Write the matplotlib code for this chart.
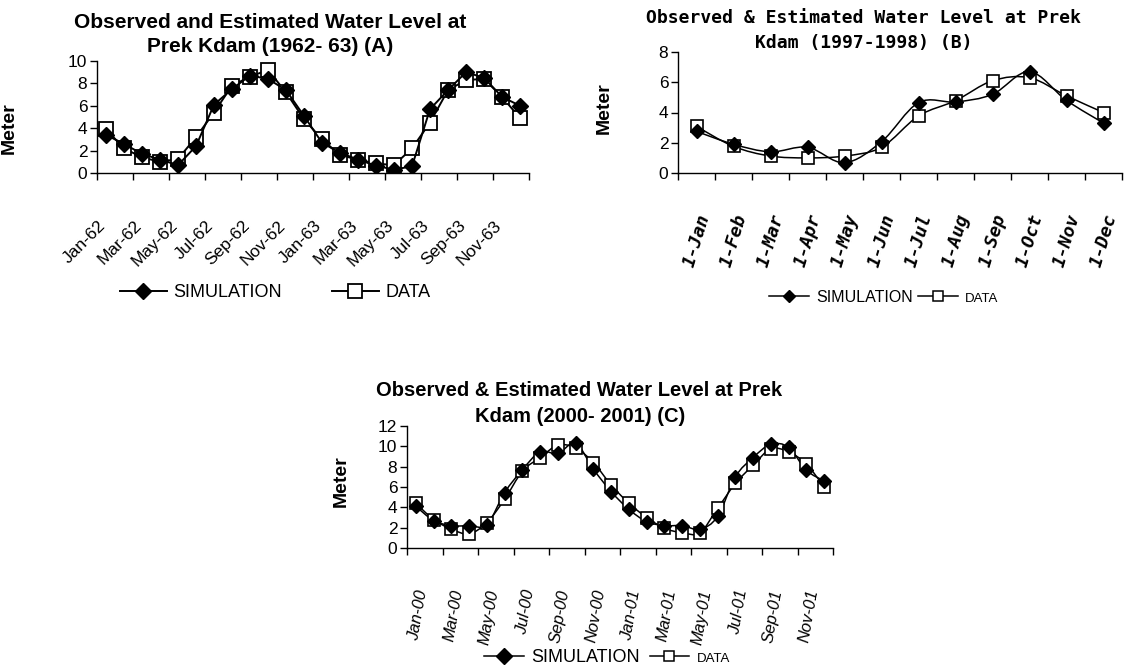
import numpy as np
import matplotlib.pyplot as plt
import matplotlib.transforms as mtransforms
from matplotlib.path import Path
from matplotlib.patches import PathPatch
from matplotlib.lines import Line2D

plt.rcParams['font.family'] = 'Liberation Sans'

W, H = 1125, 671

# (A) Prek Kdam 1962-63, monthly
labels_a = ['Jan-62', 'Mar-62', 'May-62', 'Jul-62', 'Sep-62', 'Nov-62',
            'Jan-63', 'Mar-63', 'May-63', 'Jul-63', 'Sep-63', 'Nov-63']
sim_a = [3.4, 2.6, 1.7, 1.2, 0.7, 2.4, 6.1, 7.5, 8.7, 8.4, 7.4, 5.1,
         2.7, 1.8, 1.2, 0.65, 0.3, 0.6, 5.7, 7.4, 9.0, 8.5, 6.8, 6.0]
data_a = [3.9, 2.2, 1.4, 1.0, 1.25, 3.2, 5.4, 7.8, 8.6, 9.2, 7.2, 4.8,
          3.0, 1.6, 1.2, 0.85, 0.7, 2.2, 4.5, 7.4, 8.3, 8.4, 6.8, 4.9]

# (B) Prek Kdam 1997-1998
labels_b = ['1-Jan', '1-Feb', '1-Mar', '1-Apr', '1-May', '1-Jun',
            '1-Jul', '1-Aug', '1-Sep', '1-Oct', '1-Nov', '1-Dec']
sim_b = [2.75, 1.9, 1.4, 1.7, 0.68, 2.07, 4.65, 4.7, 5.2, 6.7, 4.8, 3.3]
data_b = [3.08, 1.76, 1.12, 1.0, 1.12, 1.7, 3.77, 4.78, 6.1, 6.3, 5.1, 4.0]

# (C) Prek Kdam 2000-2001
labels_c = ['Jan-00', 'Mar-00', 'May-00', 'Jul-00', 'Sep-00', 'Nov-00',
            'Jan-01', 'Mar-01', 'May-01', 'Jul-01', 'Sep-01', 'Nov-01']
sim_c = [4.1, 2.7, 2.2, 2.2, 2.3, 5.45, 7.7, 9.45, 9.3, 10.3, 7.75, 5.55,
         3.8, 2.6, 2.2, 2.2, 1.85, 3.1, 7.0, 8.9, 10.2, 9.9, 7.65, 6.6]
data_c = [4.4, 2.8, 1.85, 1.4, 2.5, 4.8, 7.55, 8.9, 10.1, 9.85, 8.4, 6.2,
          4.4, 3.0, 1.95, 1.5, 1.5, 3.9, 6.35, 8.15, 9.75, 9.45, 8.25, 6.0]


def px_axes(left, top, right, bottom):
    return fig.add_axes([left / W, 1 - bottom / H, (right - left) / W, (bottom - top) / H])


def smooth_path(x, y):
    # bezier through the points, like a spreadsheet "smoothed line"
    pts = np.column_stack([x, y])
    ext = np.vstack([pts[0], pts, pts[-1]])
    verts = [pts[0]]
    codes = [Path.MOVETO]
    for i in range(len(pts) - 1):
        p0, p1, p2, p3 = ext[i], ext[i + 1], ext[i + 2], ext[i + 3]
        verts += [p1 + (p2 - p0) / 6, p2 - (p3 - p1) / 6, p2]
        codes += [Path.CURVE4] * 3
    return Path(verts, codes)


def setup_axes(ax, n, ymax, ystep, step, labels, rot, pad, dx, font):
    ax.set_xlim(0, n)
    ax.set_ylim(0, ymax)
    for s in ['top', 'right']:
        ax.spines[s].set_visible(False)
    for s in ['left', 'bottom']:
        ax.spines[s].set_linewidth(1.0)
    ax.set_yticks(np.arange(0, ymax + 0.1, ystep))
    ax.tick_params(axis='y', direction='out', length=5, width=1, pad=2, labelsize=12.5)
    ax.set_xticks(np.arange(0, n + 1, step), minor=True)
    ax.tick_params(axis='x', which='minor', direction='out', length=5, width=1)
    ax.set_xticks(np.arange(0, n, step) + 0.5, labels)
    ax.tick_params(axis='x', which='major', length=0, pad=pad)
    offset = mtransforms.ScaledTranslation(dx / 100, 0, fig.dpi_scale_trans)
    for t in ax.get_xticklabels():
        t.set_rotation(rot)
        t.set_ha('right')
        t.set_va('center')
        t.set_rotation_mode('anchor')
        t.set_fontproperties(font)
        t.set_transform(t.get_transform() + offset)


fig = plt.figure(figsize=(W / 100, H / 100), dpi=100)

# ---------- A ----------
ax_a = px_axes(97, 61, 529, 173)
x = np.arange(len(sim_a)) + 0.5
ax_a.plot(x, data_a, color='black', lw=1.4, marker='s', ms=9.5,
          mfc='white', mec='black', mew=1.3, zorder=3)
ax_a.plot(x, sim_a, color='black', lw=1.4, marker='D', ms=8.5,
          mfc='black', mec='black', zorder=4)
setup_axes(ax_a, 24, 10, 2, 2, labels_a, 45, 36, -3,
           dict(family='Liberation Sans', size=12.5))
ax_a.set_ylabel('Meter', fontsize=14, fontweight='bold')
ax_a.yaxis.set_label_coords(18 / W, 1 - 128 / H, transform=fig.transFigure)
fig.text(270 / W, 1 - 22 / H, 'Observed and Estimated Water Level at',
         ha='center', va='center', fontsize=15, fontweight='bold')
fig.text(270 / W, 1 - 47 / H, 'Prek Kdam (1962- 63) (A)',
         ha='center', va='center', fontsize=15, fontweight='bold')
h_sim = Line2D([], [], color='black', lw=1.4, marker='D', ms=8.5, mfc='black')
h_dat = Line2D([], [], color='black', lw=1.4, marker='s', ms=9.5, mfc='white', mew=1.3)
fig.legend([h_sim, h_dat], ['SIMULATION', 'DATA'], loc='center',
           bbox_to_anchor=(275 / W, 1 - 293 / H), ncol=2, frameon=False,
           fontsize=13, handlelength=2.6, handletextpad=0.35, columnspacing=2.8,
           borderpad=0, borderaxespad=0)

# ---------- B ----------
ax_b = px_axes(678, 52, 1122, 173)
x = np.arange(len(sim_b)) + 0.5
ax_b.add_patch(PathPatch(smooth_path(x, data_b), fill=False, ec='black', lw=1.1, zorder=3))
ax_b.add_patch(PathPatch(smooth_path(x, sim_b), fill=False, ec='black', lw=1.1, zorder=3))
ax_b.plot(x, data_b, ls='none', marker='s', ms=8.5, mfc='white', mec='black', mew=1.2, zorder=4)
ax_b.plot(x, sim_b, ls='none', marker='D', ms=6.8, mfc='black', mec='black', zorder=5)
setup_axes(ax_b, 12, 8, 2, 1, labels_b, 73, 30, 8,
           dict(family='DejaVu Sans Mono', size=13, weight='bold', style='italic'))
ax_b.set_ylabel('Meter', fontsize=14, fontweight='bold')
ax_b.yaxis.set_label_coords(613 / W, 1 - 108 / H, transform=fig.transFigure)
fig.text(864 / W, 1 - 18 / H, 'Observed & Estimated Water Level at Prek',
         ha='center', va='center', fontsize=13, fontweight='bold', family='DejaVu Sans Mono')
fig.text(864 / W, 1 - 43 / H, 'Kdam (1997-1998) (B)',
         ha='center', va='center', fontsize=13, fontweight='bold', family='DejaVu Sans Mono')
h_sim = Line2D([], [], color='black', lw=1.1, marker='D', ms=6.5, mfc='black')
h_dat = Line2D([], [], color='black', lw=1.1, marker='s', ms=7, mfc='white', mew=1.1)
leg = fig.legend([h_sim, h_dat], ['SIMULATION', 'DATA'], loc='center',
                 bbox_to_anchor=(884 / W, 1 - 297 / H), ncol=2, frameon=False,
                 fontsize=11.5, handlelength=2.5, handletextpad=0.45, columnspacing=0.3,
                 borderpad=0, borderaxespad=0)
leg.get_texts()[1].set_fontsize(9.5)

# ---------- C ----------
ax_c = px_axes(407, 426, 833, 548)
x = np.arange(len(sim_c)) + 0.5
ax_c.add_patch(PathPatch(smooth_path(x, data_c), fill=False, ec='black', lw=1.1, zorder=3))
ax_c.add_patch(PathPatch(smooth_path(x, sim_c), fill=False, ec='black', lw=1.1, zorder=3))
ax_c.plot(x, data_c, ls='none', marker='s', ms=8.5, mfc='white', mec='black', mew=1.2, zorder=4)
ax_c.plot(x, sim_c, ls='none', marker='D', ms=6.8, mfc='black', mec='black', zorder=5)
setup_axes(ax_c, 24, 12, 2, 2, labels_c, 80, 30, 7,
           dict(family='Liberation Sans', size=12, style='italic'))
ax_c.set_ylabel('Meter', fontsize=14, fontweight='bold')
ax_c.yaxis.set_label_coords(350 / W, 1 - 481 / H, transform=fig.transFigure)
fig.text(579 / W, 1 - 390 / H, 'Observed & Estimated Water Level at Prek',
         ha='center', va='center', fontsize=14.5, fontweight='bold')
fig.text(580 / W, 1 - 417 / H, 'Kdam (2000- 2001) (C)',
         ha='center', va='center', fontsize=14.5, fontweight='bold')
h_sim = Line2D([], [], color='black', lw=1.1, marker='D', ms=8, mfc='black')
h_dat = Line2D([], [], color='black', lw=1.1, marker='s', ms=7, mfc='white', mew=1.1)
leg = fig.legend([h_sim, h_dat], ['SIMULATION', 'DATA'], loc='center',
                 bbox_to_anchor=(607 / W, 1 - 658 / H), ncol=2, frameon=False,
                 fontsize=13, handlelength=2.2, handletextpad=0.4, columnspacing=0.55,
                 borderpad=0, borderaxespad=0)
leg.get_texts()[1].set_fontsize(9.5)

fig.savefig('out.png', dpi=100)
